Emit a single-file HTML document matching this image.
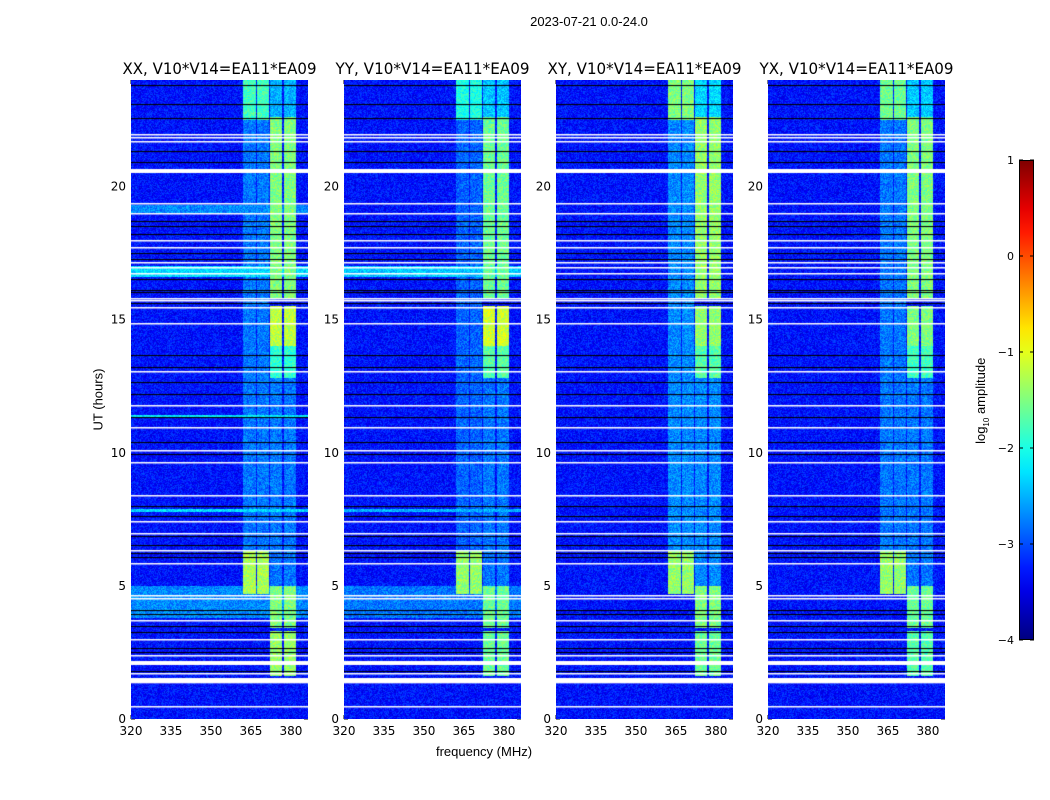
<!DOCTYPE html>
<html><head><meta charset="utf-8">
<style>
body{margin:0;background:#fff;}
#root{position:relative;width:1050px;height:800px;background:#fff;font-family:"Liberation Sans","DejaVu Sans",sans-serif;color:#000;overflow:hidden;}
canvas{position:absolute;}
.t{position:absolute;white-space:nowrap;}
</style></head>
<body>
<div id="root">
<div class="t" style="left:489px;top:14px;width:200px;text-align:center;font-size:13px;">2023-07-21 0.0-24.0</div>
<div class="t" style="left:384px;top:744px;width:200px;text-align:center;font-size:13px;">frequency (MHz)</div>
<div class="t" style="left:48px;top:392px;width:100px;text-align:center;font-size:13px;transform:rotate(-90deg);">UT (hours)</div>
<div class="t" style="left:922px;top:392px;width:120px;text-align:center;font-size:13px;transform:rotate(-90deg);">log<sub style="font-size:8px">10</sub> amplitude</div>
<svg id="axes" width="1050" height="800" style="position:absolute;left:0;top:0;pointer-events:none"></svg>
</div>
<script>
const panelTitles = ["XX, V10*V14=EA11*EA09","YY, V10*V14=EA11*EA09","XY, V10*V14=EA11*EA09","YX, V10*V14=EA11*EA09"];
const panelLefts = [131,344,556,768];
const freqMin = 320, freqMax = 386.4, hourMin = 0, hourMax = 24;
const xTicks = [320,335,350,365,380];
const yTicks = [0,5,10,15,20];
const cbTicks = [1,0,-1,-2,-3,-4];
const bgLevel = -3.3;
const bands = [[362,367],[367.2,371.8],[372,376.7],[377.4,382]];
const segXX = [[22.5,24,[0,1],-1.8],[4.7,6.3,[0,1],-1.3],[6.3,22.5,[0,1],-2.8],[1.6,3.3,[2,3],-1.4],[3.4,5.0,[2,3],-1.5],[12.8,14.0,[2,3],-1.9],[14.0,15.5,[2,3],-1.2],[15.8,22.6,[2,3],-1.5],[22.6,24,[2,3],-2.5],[5,12.8,[2,3],-2.8]];
const segYY = [[22.5,24,[0,1],-2.0],[4.7,6.3,[0,1],-1.4],[6.3,22.5,[0,1],-2.9],[1.6,3.3,[2,3],-1.6],[3.4,5.0,[2,3],-1.6],[12.8,14.0,[2,3],-1.7],[14.0,15.5,[2,3],-1.1],[15.8,22.6,[2,3],-1.6],[22.6,24,[2,3],-2.4],[5,12.8,[2,3],-2.8]];
const segXY = [[22.5,24,[0,1],-1.5],[4.7,6.3,[0,1],-1.4],[6.3,22.5,[0,1],-2.7],[1.6,3.3,[2,3],-1.6],[3.4,5.0,[2,3],-1.5],[12.8,14.0,[2,3],-1.7],[14.0,15.5,[2,3],-1.4],[15.8,22.6,[2,3],-1.4],[22.6,24,[2,3],-2.3],[5,12.8,[2,3],-2.7]];
const segYX = [[22.5,24,[0,1],-1.6],[4.7,6.3,[0,1],-1.4],[6.3,22.5,[0,1],-2.8],[1.6,3.3,[2,3],-1.7],[3.4,5.0,[2,3],-1.6],[12.8,14.0,[2,3],-1.8],[14.0,15.5,[2,3],-1.5],[15.8,22.6,[2,3],-1.5],[22.6,24,[2,3],-2.4],[5,12.8,[2,3],-2.8]];
const panelSegs = [segXX,segYY,segXY,segYX];
const broadXX = [[16.6,17.0,-2.3],[19.0,19.3,-2.7],[7.78,7.9,-2.3],[3.8,5.0,-2.7],[11.3,11.4,-2.2]];
const broadYY = [[16.6,17.0,-2.4],[7.78,7.9,-2.5],[3.8,5.0,-2.8]];
const broadXY = [];
const broadYX = [];
const panelBroad = [broadXX,broadYY,broadXY,broadYX];
const whiteFlags = [[21.95,0.04],[21.83,0.04],[21.69,0.04],[20.6,0.15],[19.36,0.04],[19.0,0.04],[17.97,0.04],[17.7,0.04],[17.16,0.04],[16.96,0.04],[16.73,0.04],[15.8,0.04],[15.7,0.04],[15.46,0.04],[14.86,0.04],[13.06,0.04],[11.78,0.04],[10.96,0.04],[10.1,0.04],[9.64,0.04],[8.4,0.04],[7.4,0.04],[6.98,0.04],[6.31,0.04],[5.85,0.04],[4.65,0.04],[4.54,0.04],[3.71,0.04],[3.0,0.04],[2.4,0.04],[2.11,0.15],[1.72,0.04],[1.45,0.2],[0.45,0.04]];
const blackFlags = [[23.8,0.04],[23.07,0.04],[22.55,0.04],[21.3,0.04],[20.9,0.04],[18.7,0.04],[18.5,0.04],[18.2,0.04],[17.5,0.04],[17.26,0.04],[16.5,0.04],[16.1,0.04],[16.0,0.04],[15.6,0.04],[13.66,0.04],[13.2,0.04],[12.65,0.04],[12.2,0.04],[11.33,0.04],[10.4,0.04],[9.94,0.04],[7.97,0.04],[7.6,0.04],[6.87,0.04],[6.53,0.04],[6.2,0.04],[6.07,0.04],[4.06,0.04],[3.94,0.04],[3.46,0.04],[3.24,0.04],[2.66,0.04],[2.48,0.04],[1.8,0.04]];

const PT=80, PB=719, PW=177;
const ph = PB-PT;
function xScale(f,left){return left+(f-freqMin)/(freqMax-freqMin)*PW;}
function yScale(h){return PB-(h-hourMin)/(hourMax-hourMin)*ph;}
function clamp(v){return Math.max(0,Math.min(1,v));}
function jet(v){const t=clamp((v+4)/5);return [clamp(1.5-Math.abs(4*t-3)),clamp(1.5-Math.abs(4*t-2)),clamp(1.5-Math.abs(4*t-1))].map(c=>Math.round(c*255));}
function hash(a,b,c){let n=(a*374761393+b*668265263+c*2147483647)|0;n=(n^(n>>>13))*1274126177|0;return ((n^(n>>>16))>>>0)/4294967295;}

const root=document.getElementById('root');
const svg=document.getElementById('axes');
const NS='http://www.w3.org/2000/svg';
function sv(tag,attrs){const e=document.createElementNS(NS,tag);for(const k in attrs)e.setAttribute(k,attrs[k]);svg.appendChild(e);return e;}

panelLefts.forEach((left,p)=>{
  const cv=document.createElement('canvas');
  cv.width=PW;cv.height=ph;cv.style.left=left+'px';cv.style.top=PT+'px';
  
  
  root.appendChild(cv);
  const ctx=cv.getContext('2d');
  const img=ctx.createImageData(PW,ph);
  const segs=panelSegs[p], broad=panelBroad[p];
  for(let j=0;j<ph;j++){
    const h=hourMax-(j+0.5)/ph*(hourMax-hourMin);
    let rowBase=bgLevel;
    broad.forEach(b=>{if(h>=b[0]&&h<b[1])rowBase=Math.max(rowBase,b[2]);});
    for(let i=0;i<PW;i++){
      const f=freqMin+(i+0.5)/PW*(freqMax-freqMin);
      let v=rowBase;
      segs.forEach(s=>{if(h>=s[0]&&h<s[1]){s[2].forEach(bi=>{const b=bands[bi];if(f>=b[0]&&f<b[1])v=Math.max(v,s[3]);});}});
      v+= (hash(i,j,p)-0.5)*0.6;
      const c=jet(v);const k=(j*PW+i)*4;
      img.data[k]=c[0];img.data[k+1]=c[1];img.data[k+2]=c[2];img.data[k+3]=255;
    }
  }
  ctx.putImageData(img,0,0);
  whiteFlags.forEach(fl=>{const y0=yScale(fl[0]+fl[1]/2)-PT,y1=yScale(fl[0]-fl[1]/2)-PT;ctx.fillStyle='#fff';ctx.fillRect(0,Math.round(y0),PW,Math.max(1.5,y1-y0));});
  blackFlags.forEach(fl=>{const y0=yScale(fl[0]+fl[1]/2)-PT,y1=yScale(fl[0]-fl[1]/2)-PT;ctx.fillStyle='#000';ctx.fillRect(0,Math.round(y0),PW,Math.max(1,y1-y0));});

  const fr=sv('rect',{x:left+0.5,y:PT+0.5,width:PW-1,height:ph-1,fill:'none',stroke:'#000','stroke-width':1});
  
  
  const tt=sv('text',{x:left+PW/2,y:PT-6,'text-anchor':'middle','font-size':16,'font-family':'DejaVu Sans, sans-serif','textLength':194,'lengthAdjust':'spacingAndGlyphs'});
  tt.textContent=panelTitles[p];
  
  
  xTicks.forEach(f=>{
    const x=xScale(f,left);
    sv('line',{x1:x,x2:x,y1:PB,y2:PB-4,stroke:'#000'});
    sv('line',{x1:x,x2:x,y1:PT,y2:PT+4,stroke:'#000'});
    const t=sv('text',{x:x,y:PB+16,'text-anchor':'middle','font-size':12,'font-family':'DejaVu Sans, sans-serif'});
    t.textContent=f;
    
    
  });
  yTicks.forEach(hv=>{
    const y=yScale(hv);
    sv('line',{x1:left,x2:left+4,y1:y,y2:y,stroke:'#000'});
    sv('line',{x1:left+PW,x2:left+PW-4,y1:y,y2:y,stroke:'#000'});
    const t=sv('text',{x:left-5,y:y+4,'text-anchor':'end','font-size':12,'font-family':'DejaVu Sans, sans-serif'});
    t.textContent=hv;
    
    
  });
});

const CBX=1019,CBW=15,CBT=160,CBB=640;
const defs=sv('defs',{});
const lg=document.createElementNS(NS,'linearGradient');
lg.setAttribute('id','jetg');lg.setAttribute('x1','0');lg.setAttribute('y1','1');lg.setAttribute('x2','0');lg.setAttribute('y2','0');
defs.appendChild(lg);
for(let s=0;s<=20;s++){const v=-4+s/4;const c=jet(v);const st=document.createElementNS(NS,'stop');st.setAttribute('offset',s/20);st.setAttribute('stop-color','rgb('+c.join(',')+')');lg.appendChild(st);}
const cb=sv('rect',{x:CBX+0.5,y:CBT+0.5,width:CBW-1,height:CBB-CBT-1,fill:'url(#jetg)',stroke:'#000'});


function cbY(v){return CBB-(v+4)/5*(CBB-CBT);}
cbTicks.forEach(v=>{
  const y=cbY(v);
  sv('line',{x1:CBX,x2:CBX+4,y1:y,y2:y,stroke:'#000'});
  sv('line',{x1:CBX+CBW,x2:CBX+CBW-4,y1:y,y2:y,stroke:'#000'});
  const t=sv('text',{x:CBX-5,y:y+4,'text-anchor':'end','font-size':11,'font-family':'DejaVu Sans, sans-serif'});
  t.textContent=v<0?'\u2212'+(-v):v;
  
  
});
</script>
</body></html>
